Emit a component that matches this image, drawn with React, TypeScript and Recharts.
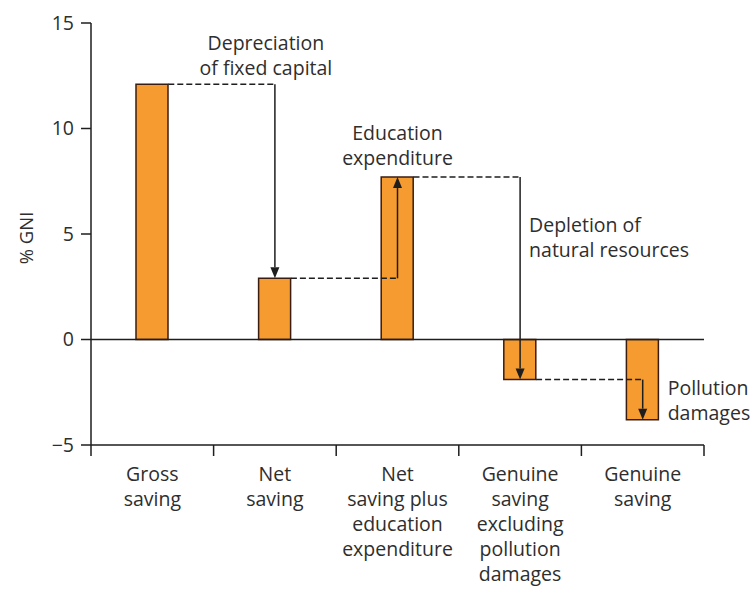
import React from "react";
import { BarChart, Bar, XAxis, YAxis, ReferenceLine } from "recharts";

const CATEGORIES = [
  "Gross saving",
  "Net saving",
  "Net saving plus education expenditure",
  "Genuine saving excluding pollution damages",
  "Genuine saving",
];
const CATEGORY_LINES = [
  ["Gross", "saving"],
  ["Net", "saving"],
  ["Net", "saving plus", "education", "expenditure"],
  ["Genuine", "saving", "excluding", "pollution", "damages"],
  ["Genuine", "saving"],
];
const VALUES = [12.1, 2.9, 7.7, -1.9, -3.8];
const Y_TICKS = [-5, 0, 5, 10, 15];
const STEP_LABELS = [
  ["Depreciation", "of fixed capital"],
  ["Education", "expenditure"],
  ["Depletion of", "natural resources"],
  ["Pollution", "damages"],
];

const data = CATEGORIES.map((name, i) => ({ name, value: VALUES[i] }));

const BAR_SIZE = 32;
const INK = "#1e1e1e";
const TEXT = "#2e2e2e";
const FONT = 19.5;

// where each step label sits, relative to the top of its arrow
const LABEL_PLACEMENT = [
  { dx: -9, dy: -41, anchor: "middle" },
  { dx: 0, dy: -145, anchor: "middle" },
  { dx: 9, dy: 48, anchor: "start" },
  { dx: 25, dy: 8, anchor: "start" },
];

function CategoryTick(props: any) {
  const { x, y, payload, index } = props;
  const i = payload?.index ?? index;
  const half = payload?.offset || 61.3;
  const lines = CATEGORY_LINES[i] || [];
  return (
    <g>
      <line x1={x - half} y1={y} x2={x - half} y2={y + 11} stroke={INK} strokeWidth={1.5} />
      {i === CATEGORIES.length - 1 && (
        <line x1={x + half} y1={y} x2={x + half} y2={y + 11} stroke={INK} strokeWidth={1.5} />
      )}
      <text textAnchor="middle" fill={TEXT} fontSize={FONT}>
        {lines.map((l, k) => (
          <tspan key={k} x={x} y={y + 36 + k * 25}>
            {l}
          </tspan>
        ))}
      </text>
    </g>
  );
}

function dashedShape(props: any) {
  const { x1, y1, x2, y2 } = props;
  return (
    <line
      x1={x1 + BAR_SIZE / 2}
      y1={y1}
      x2={x2}
      y2={y2}
      stroke={INK}
      strokeWidth={1.5}
      strokeDasharray="6 3"
    />
  );
}

function arrowShape(i: number) {
  return (props: any) => {
    const { x1, y1, x2, y2 } = props;
    const dir = y2 > y1 ? 1 : -1;
    const head = 11;
    const w = 4.5;
    const place = LABEL_PLACEMENT[i];
    return (
      <g>
        <line x1={x1} y1={y1} x2={x2} y2={y2 - dir * head} stroke={INK} strokeWidth={1.5} />
        <polygon
          points={`${x2},${y2} ${x2 - w},${y2 - dir * head} ${x2 + w},${y2 - dir * head}`}
          fill={INK}
        />
        <text textAnchor={place.anchor} fill={TEXT} fontSize={FONT}>
          {STEP_LABELS[i].map((l, k) => (
            <tspan key={k} x={x1 + place.dx} y={y1 + place.dy + 7 + k * 25}>
              {l}
            </tspan>
          ))}
        </text>
      </g>
    );
  };
}

function YLabel(props: any) {
  const vb = props.viewBox || { x: 0, y: 23, width: 91, height: 422 };
  const cx = vb.x + 25;
  const cy = vb.y + vb.height / 2 + 4;
  return (
    <text
      x={cx}
      y={cy}
      transform={`rotate(-90, ${cx}, ${cy})`}
      textAnchor="middle"
      dominantBaseline="central"
      fill={TEXT}
      fontSize={FONT - 1}
    >
      % GNI
    </text>
  );
}

export default function App() {
  return (
    <div style={{ position: "absolute", left: 0, top: 0, width: 756, height: 589, background: "#fff" }}>
      <BarChart
        width={756}
        height={589}
        data={data}
        margin={{ top: 23, right: 52, bottom: 14, left: 0 }}
        style={{ fontFamily: "'Open Sans', sans-serif" }}
      >
        <XAxis
          dataKey="name"
          height={130}
          interval={0}
          tickSize={0}
          tickMargin={0}
          tickLine={false}
          axisLine={{ stroke: INK, strokeWidth: 1.5 }}
          tick={<CategoryTick />}
        />
        <YAxis
          type="number"
          domain={[-5, 15]}
          ticks={Y_TICKS}
          interval={0}
          width={91}
          tickSize={10}
          tickMargin={7}
          axisLine={{ stroke: INK, strokeWidth: 1.5 }}
          tickLine={{ stroke: INK, strokeWidth: 1.5 }}
          tick={{ fill: TEXT, fontSize: FONT }}
          tickFormatter={(v: number) => (v < 0 ? "\u2212" + Math.abs(v) : String(v))}
          label={<YLabel />}
        />
        <ReferenceLine y={0} stroke={INK} strokeWidth={1.5} />
        <Bar
          dataKey="value"
          barSize={BAR_SIZE}
          fill="#f59b2f"
          stroke="#3b1c10"
          strokeWidth={1.5}
          isAnimationActive={false}
        />
        {VALUES.slice(0, -1).map((v, i) => (
          <ReferenceLine
            key={`d${i}`}
            segment={[
              { x: CATEGORIES[i], y: v },
              { x: CATEGORIES[i + 1], y: v },
            ]}
            shape={dashedShape}
          />
        ))}
        {VALUES.slice(0, -1).map((v, i) => (
          <ReferenceLine
            key={`a${i}`}
            segment={[
              { x: CATEGORIES[i + 1], y: v },
              { x: CATEGORIES[i + 1], y: VALUES[i + 1] },
            ]}
            shape={arrowShape(i)}
          />
        ))}
      </BarChart>
    </div>
  );
}
